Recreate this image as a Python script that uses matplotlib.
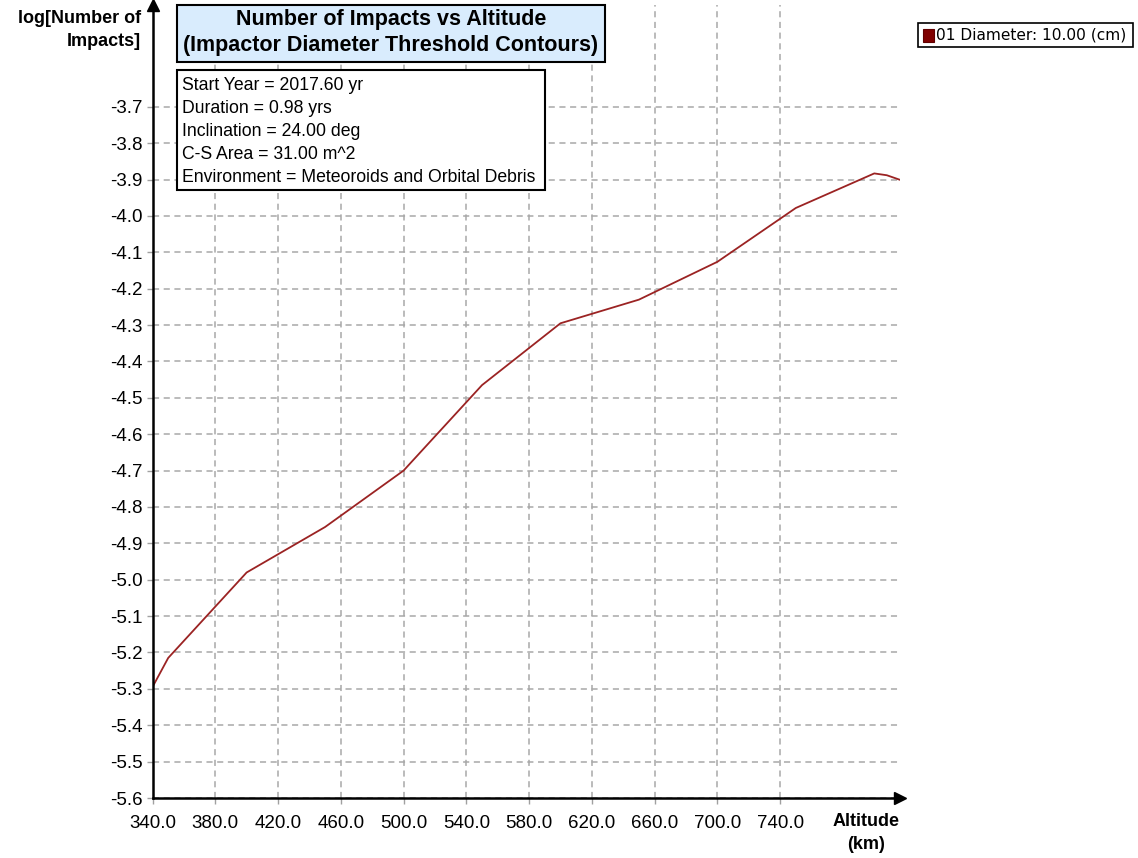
import numpy as np
import matplotlib
matplotlib.use("Agg")
import matplotlib.pyplot as plt
from matplotlib.patches import Rectangle

plt.rcParams['font.family'] = ['Liberation Sans', 'DejaVu Sans']

# data
altitude = [340, 350, 400, 450, 500, 550, 600, 650, 700, 750, 800, 808, 816]
log_impacts = [-5.295, -5.215, -4.98, -4.855, -4.70, -4.465, -4.295,
               -4.230, -4.126, -3.978, -3.883, -3.888, -3.90]
x_ticks = [340, 380, 420, 460, 500, 540, 580, 620, 660, 700, 740]
y_ticks = [-5.6, -5.5, -5.4, -5.3, -5.2, -5.1, -5.0, -4.9, -4.8, -4.7,
           -4.6, -4.5, -4.4, -4.3, -4.2, -4.1, -4.0, -3.9, -3.8, -3.7]
series_name = "01 Diameter: 10.00 (cm)"
title_lines = ["Number of Impacts vs Altitude",
               "(Impactor Diameter Threshold Contours)"]
info_lines = ["Start Year = 2017.60 yr",
              "Duration = 0.98 yrs",
              "Inclination = 24.00 deg",
              "C-S Area = 31.00 m^2",
              "Environment = Meteoroids and Orbital Debris"]

W, H = 1138, 858
fig = plt.figure(figsize=(W / 100, H / 100), dpi=100)


def fx(px):
    return px / W


def fy(py):
    return 1 - py / H


left, right, bottom, top = 152.5, 900, 798, 5
ax = fig.add_axes([fx(left), fy(bottom), fx(right - left), (bottom - top) / H])

ax.plot(altitude, log_impacts, color="#9b2323", lw=1.3, zorder=3)
ax.set_xlim(340, 816.4)
ax.set_ylim(-5.6, -3.42)

ax.set_xticks(x_ticks)
ax.set_xticklabels([f"{v:.1f}" for v in x_ticks])
ax.set_yticks(y_ticks)
ax.set_yticklabels([f"{v:.1f}" for v in y_ticks])
ax.tick_params(axis="both", direction="out", length=4, width=1,
               color="#a0a0a0", labelsize=13.5)
ax.tick_params(axis="y", pad=3)
ax.tick_params(axis="x", pad=8)

ax.grid(True, color="#a8a8a8", ls=(0, (4, 3)), lw=1.1)
for s in ["top", "right"]:
    ax.spines[s].set_visible(False)
for s in ["left", "bottom"]:
    ax.spines[s].set_linewidth(1.8)
    ax.spines[s].set_zorder(4)

# arrow heads on the axes
ax.plot([0], [1], marker="^", color="black", ms=8, transform=ax.transAxes,
        clip_on=False, zorder=5)
ax.plot([1], [0], marker=">", color="black", ms=8, transform=ax.transAxes,
        clip_on=False, zorder=5)

# axis labels
fig.text(fx(141), fy(30), "log[Number of\nImpacts]", ha="right", va="center",
         fontsize=13, fontweight="bold", linespacing=1.45)
fig.text(fx(866), fy(833), "Altitude\n(km)", ha="center", va="center",
         fontsize=13, fontweight="bold", linespacing=1.45)

# title box
fig.patches.append(Rectangle((fx(177), fy(62)), fx(605 - 177), (62 - 5) / H,
                             transform=fig.transFigure, facecolor="#d9ecfd",
                             edgecolor="black", lw=1.5, zorder=6))
fig.text(fx(391), fy(20), title_lines[0], ha="center", va="center",
         fontsize=15.5, fontweight="bold", zorder=7)
fig.text(fx(391), fy(46), title_lines[1], ha="center", va="center",
         fontsize=15.5, fontweight="bold", zorder=7)

# info box
fig.patches.append(Rectangle((fx(177), fy(190)), fx(545 - 177), (190 - 70) / H,
                             transform=fig.transFigure, facecolor="white",
                             edgecolor="black", lw=1.5, zorder=6))
for i, line in enumerate(info_lines):
    fig.text(fx(182), fy(85 + i * 23.2), line, ha="left", va="center",
             fontsize=12.7, zorder=7)

# legend box
fig.patches.append(Rectangle((fx(918), fy(47)), fx(1133 - 918), (47 - 23) / H,
                             transform=fig.transFigure, facecolor="white",
                             edgecolor="black", lw=1.2, zorder=6))
fig.patches.append(Rectangle((fx(923), fy(42)), fx(11), 13 / H,
                             transform=fig.transFigure, facecolor="#800000",
                             edgecolor="#600000", lw=0.8, zorder=7))
fig.text(fx(936), fy(35.5), series_name, ha="left", va="center",
         fontsize=11.1, family="DejaVu Sans", zorder=7)

fig.savefig("out.png", dpi=100)
